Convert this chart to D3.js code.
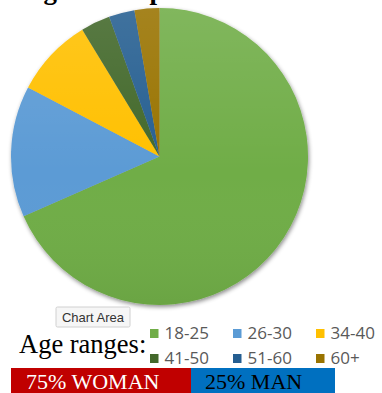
<!DOCTYPE html>
<html>
<head>
<meta charset="utf-8">
<script src="https://cdn.jsdelivr.net/npm/d3@7"></script>
<style>
  html, body { margin: 0; padding: 0; background: #fff; }
  svg { display: block; }
</style>
</head>
<body>
<svg id="chart"></svg>
<script>
"use strict";

// values (share of respondents, %)
var ageGroups = ["18-25", "26-30", "34-40", "41-50", "51-60", "60+"];
var ageShares = [68.4, 14.3, 8.6, 3.2, 2.8, 2.7];
var ageColors = ["#70AD47", "#5B9BD5", "#FFC000", "#43682B", "#255E91", "#997300"];
var genderLabels = ["75% WOMAN", "25% MAN"];
var genderColors = ["#C00000", "#0070C0"];
var genderTextColors = ["#ffffff", "#000000"];

(function () {

    var width = 382, height = 393;
    var cx = 159.5, cy = 156.5, radius = 148.5;

    var svg = d3.select("#chart")
        .attr("width", width)
        .attr("height", height);

    var defs = svg.append("defs");

    var shadow = defs.append("filter")
        .attr("id", "pieShadow")
        .attr("x", "-10%").attr("y", "-10%")
        .attr("width", "120%").attr("height", "120%");
    shadow.append("feDropShadow")
        .attr("dx", 1).attr("dy", 2)
        .attr("stdDeviation", 2.2)
        .attr("flood-color", "#000")
        .attr("flood-opacity", 0.45);

    var shade = defs.append("linearGradient")
        .attr("id", "pieShade")
        .attr("x1", 0).attr("y1", 0)
        .attr("x2", 0).attr("y2", 1);
    shade.append("stop").attr("offset", "0%")
        .attr("stop-color", "#fff").attr("stop-opacity", 0.12);
    shade.append("stop").attr("offset", "55%")
        .attr("stop-color", "#fff").attr("stop-opacity", 0);
    shade.append("stop").attr("offset", "100%")
        .attr("stop-color", "#000").attr("stop-opacity", 0.05);

    // title, mostly cut off at the top edge (as in the screenshot)
    svg.append("text")
        .attr("x", 24)
        .attr("y", -1)
        .attr("font-family", "'Liberation Serif', 'Times New Roman', serif")
        .attr("font-weight", "bold")
        .attr("font-size", 27)
        .attr("fill", "#000")
        .text("Ages of respondents");

    var color = d3.scaleOrdinal()
        .domain(ageGroups)
        .range(ageColors);

    var pie = d3.pie()
        .sort(null)
        .value(function (d) { return d.value; });

    var arc = d3.arc()
        .innerRadius(0)
        .outerRadius(radius);

    var data = ageGroups.map(function (g, i) {
        return { group: g, value: ageShares[i] };
    });

    var pieGroup = svg.append("g")
        .attr("transform", "translate(" + cx + "," + cy + ")");

    pieGroup.append("g")
        .attr("filter", "url(#pieShadow)")
        .selectAll("path")
        .data(pie(data))
        .enter()
        .append("path")
        .attr("d", arc)
        .attr("fill", function (d) { return color(d.data.group); });

    pieGroup.append("circle")
        .attr("r", radius)
        .attr("fill", "url(#pieShade)")
        .attr("pointer-events", "none");

    // "Chart Area" tooltip
    var tip = svg.append("g").attr("transform", "translate(56,307)");
    tip.append("rect")
        .attr("width", 74).attr("height", 20)
        .attr("rx", 1.5)
        .attr("fill", "#f6f6f6")
        .attr("stroke", "#d0d0d0");
    tip.append("text")
        .attr("x", 37).attr("y", 14.5)
        .attr("text-anchor", "middle")
        .attr("font-family", "'Liberation Sans', Arial, sans-serif")
        .attr("font-size", 13)
        .attr("fill", "#333")
        .text("Chart Area");

    // legend caption
    svg.append("text")
        .attr("x", 19)
        .attr("y", 353)
        .attr("font-family", "'Liberation Serif', 'Times New Roman', serif")
        .attr("font-size", 26.5)
        .attr("fill", "#000")
        .text("Age ranges:");

    // legend: 3 columns x 2 rows
    var legendX = d3.scalePoint()
        .domain([0, 1, 2])
        .range([150, 316]);
    var legendY = d3.scalePoint()
        .domain([0, 1])
        .range([329, 354]);

    var legend = svg.append("g")
        .selectAll("g")
        .data(ageGroups)
        .enter()
        .append("g")
        .attr("transform", function (d, i) {
            return "translate(" + legendX(i % 3) + "," + legendY(Math.floor(i / 3)) + ")";
        });

    legend.append("rect")
        .attr("width", 8.5).attr("height", 9)
        .attr("fill", function (d) { return color(d); });

    legend.append("text")
        .attr("x", 14.5)
        .attr("y", 10)
        .attr("font-family", "'Open Sans', 'Liberation Sans', sans-serif")
        .attr("font-size", 17)
        .attr("fill", "#595959")
        .text(function (d) { return d; });

    // gender bar
    var barStarts = [11, 191];
    var barWidths = [180, 144];
    var bar = svg.append("g")
        .selectAll("g")
        .data(genderLabels)
        .enter()
        .append("g");

    bar.append("rect")
        .attr("x", function (d, i) { return barStarts[i]; })
        .attr("y", 368)
        .attr("width", function (d, i) { return barWidths[i]; })
        .attr("height", 25)
        .attr("fill", function (d, i) { return genderColors[i]; });

    bar.append("text")
        .attr("x", function (d, i) { return i === 0 ? 26 : 205; })
        .attr("y", 389)
        .attr("font-family", "'Liberation Serif', 'Times New Roman', serif")
        .attr("font-size", 22)
        .attr("fill", function (d, i) { return genderTextColors[i]; })
        .text(function (d) { return d; });

})();
</script>
</body>
</html>
